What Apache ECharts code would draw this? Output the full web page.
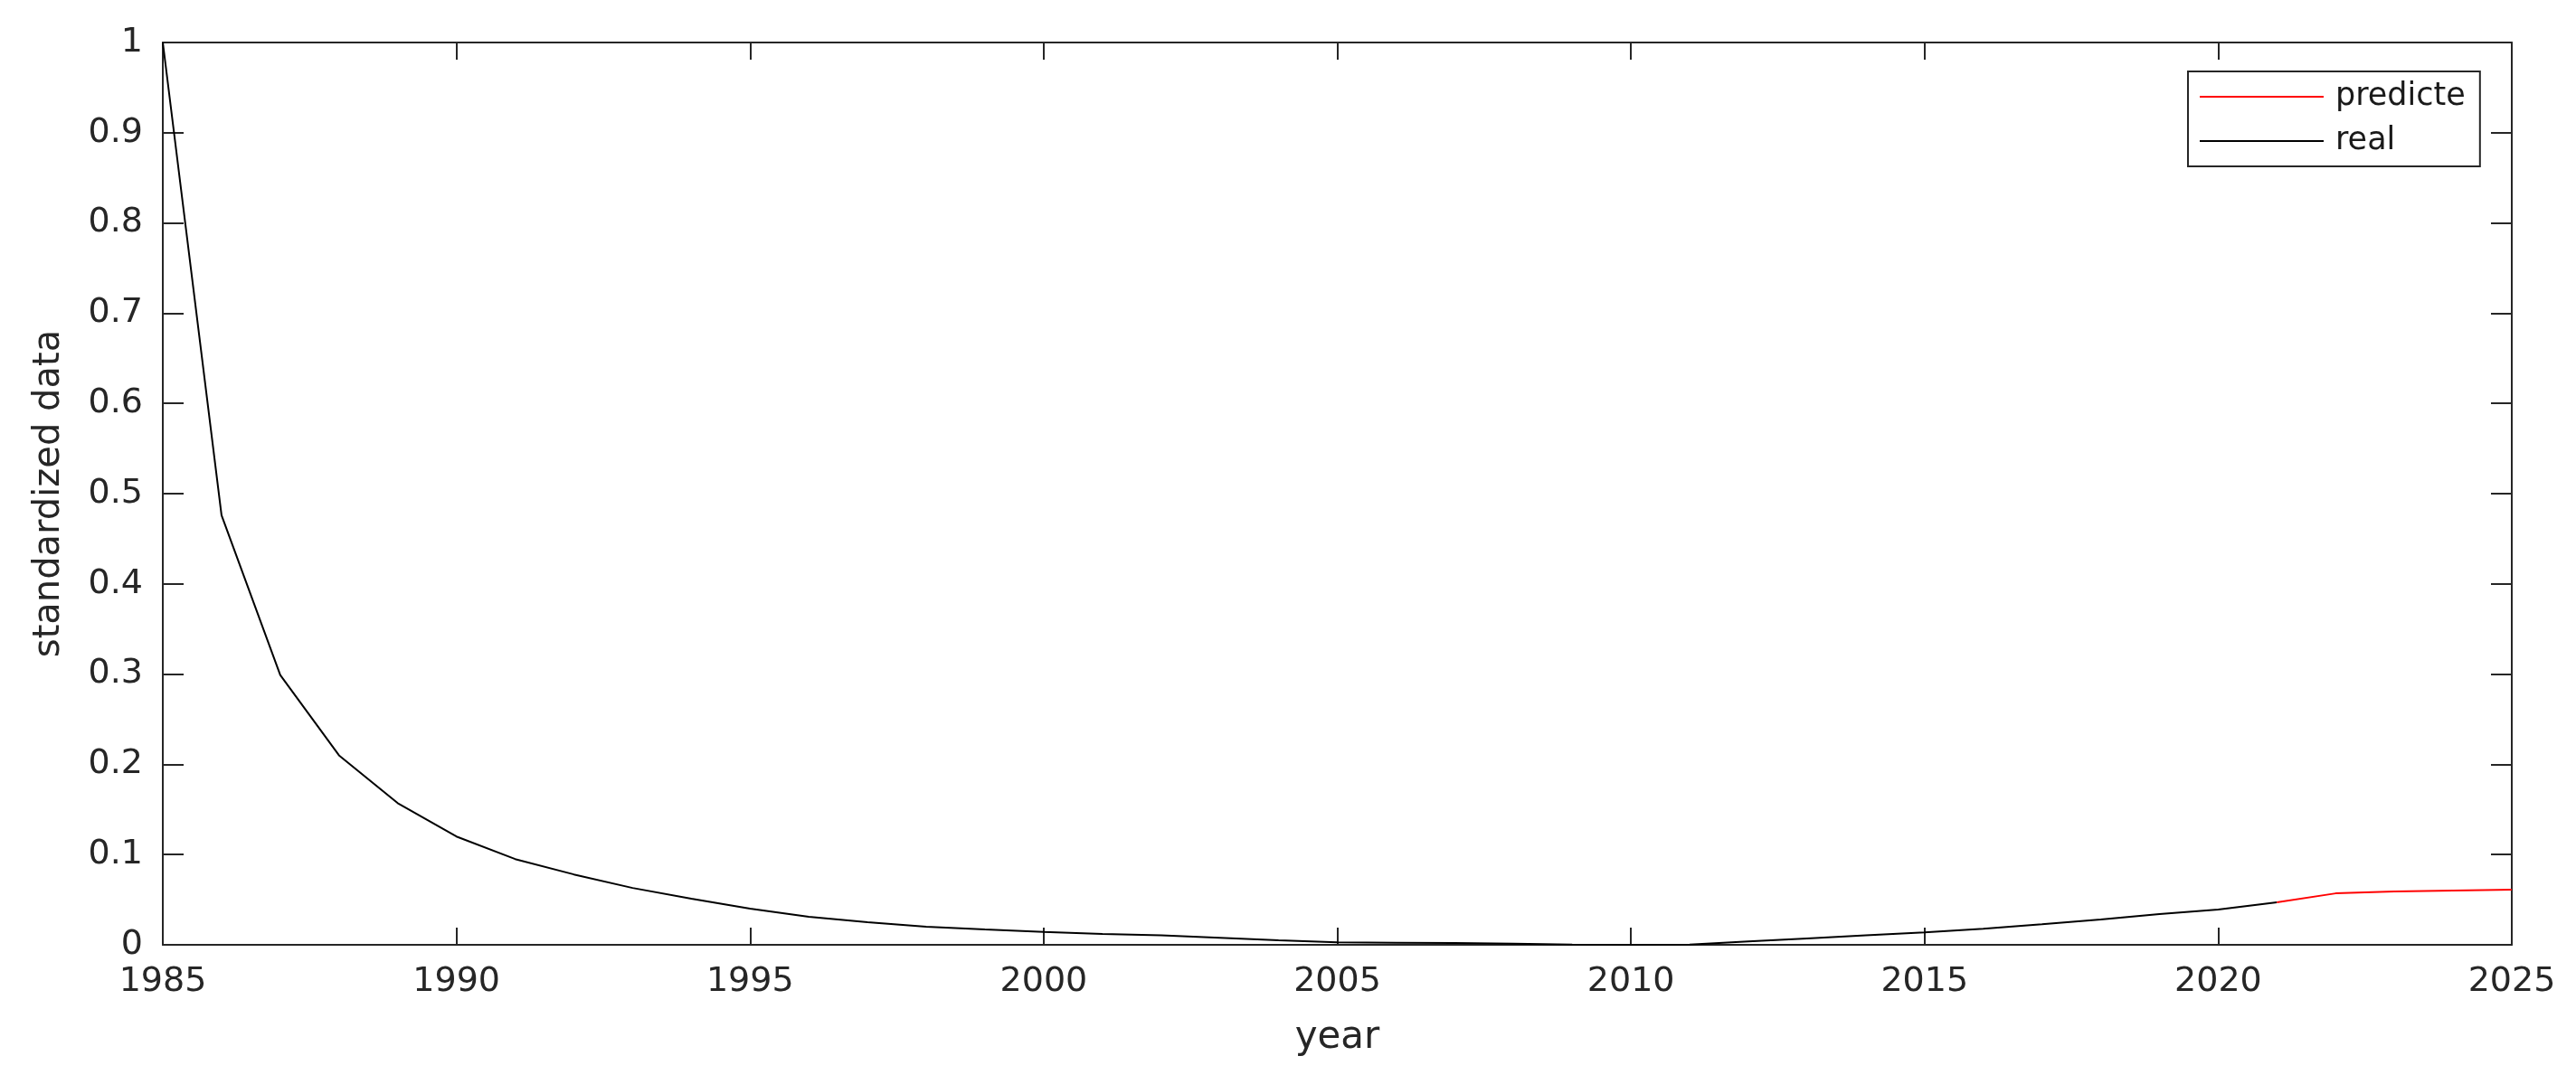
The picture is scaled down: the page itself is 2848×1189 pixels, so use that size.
<!DOCTYPE html>
<html>
<head>
<meta charset="utf-8">
<script src="https://cdn.jsdelivr.net/npm/echarts@6/dist/echarts.min.js"></script>
<style>
  html, body { margin: 0; padding: 0; background: #fff; }
  #chart { width: 2848px; height: 1189px; }
</style>
</head>
<body>
<div id="chart"></div>
<script>
// real data, 1985-2021
const realYears = [1985, 1986, 1987, 1988, 1989, 1990, 1991, 1992, 1993, 1994,
  1995, 1996, 1997, 1998, 1999, 2000, 2001, 2002, 2003, 2004,
  2005, 2006, 2007, 2008, 2009, 2010, 2011, 2012, 2013, 2014,
  2015, 2016, 2017, 2018, 2019, 2020, 2021];
const realValues = [1.0, 0.476, 0.299, 0.210, 0.157, 0.120, 0.095, 0.078, 0.063, 0.051,
  0.040, 0.031, 0.025, 0.020, 0.017, 0.0144, 0.012, 0.0104, 0.0077, 0.005,
  0.0027, 0.0023, 0.002, 0.0013, 0.0003, 0.0, 0.0003, 0.0037, 0.007, 0.0104,
  0.0137, 0.0177, 0.0227, 0.028, 0.034, 0.039, 0.047];

// predicted data, 2021-2025
const predYears = [2021, 2022, 2023, 2024, 2025];
const predValues = [0.047, 0.057, 0.059, 0.060, 0.061];

const legendNames = ['predicte', 'real'];

const axisColor = '#262626';
const font = 'DejaVu Sans';

const chart = echarts.init(document.getElementById('chart'));

function pairs(xs, ys) {
  return xs.map((x, i) => [x, ys[i]]);
}

const xCommon = {
  type: 'value',
  min: 1985,
  max: 2025,
  interval: 5,
  axisLine: { show: true, onZero: false, lineStyle: { color: axisColor, width: 2 } },
  axisTick: { show: true, inside: true, length: 19, lineStyle: { color: axisColor, width: 2 } },
  splitLine: { show: false }
};
const yCommon = {
  type: 'value',
  min: 0,
  max: 1,
  interval: 0.1,
  axisLine: { show: true, onZero: false, lineStyle: { color: axisColor, width: 2 } },
  axisTick: { show: true, inside: true, length: 23, lineStyle: { color: axisColor, width: 2 } },
  splitLine: { show: false }
};

const option = {
  backgroundColor: '#fff',
  animation: false,
  grid: { left: 180, right: 71, top: 47, bottom: 144 },
  legend: {
    data: legendNames,
    orient: 'vertical',
    left: 2419,
    top: 79,
    icon: 'rect',
    itemWidth: 137,
    itemHeight: 2,
    itemGap: 13,
    padding: [10, 16, 10, 13],
    borderColor: axisColor,
    borderWidth: 2,
    backgroundColor: '#fff',
    textStyle: {
      fontFamily: font,
      fontSize: 35,
      lineHeight: 36,
      color: '#1a1a1a',
      padding: [0, 0, 0, 8]
    }
  },
  xAxis: [
    Object.assign({}, xCommon, {
      position: 'bottom',
      name: 'year',
      nameLocation: 'middle',
      nameGap: 82,
      nameTextStyle: { fontFamily: font, fontSize: 42, color: axisColor },
      axisLabel: {
        fontFamily: font, fontSize: 38, color: axisColor, margin: 22,
        formatter: (v) => String(v)
      }
    }),
    Object.assign({}, xCommon, {
      position: 'top',
      axisLabel: { show: false }
    })
  ],
  yAxis: [
    Object.assign({}, yCommon, {
      position: 'left',
      name: 'standardized data',
      nameLocation: 'middle',
      nameGap: 105,
      nameRotate: 90,
      nameTextStyle: { fontFamily: font, fontSize: 40, color: axisColor },
      axisLabel: { fontFamily: font, fontSize: 38, color: axisColor, margin: 22 }
    }),
    Object.assign({}, yCommon, {
      position: 'right',
      axisLabel: { show: false }
    })
  ],
  series: [
    {
      name: 'real',
      type: 'line',
      data: pairs(realYears, realValues),
      showSymbol: false,
      symbol: 'none',
      color: '#000000',
      lineStyle: { color: '#000000', width: 2 }
    },
    {
      name: 'predicte',
      type: 'line',
      data: pairs(predYears, predValues),
      showSymbol: false,
      symbol: 'none',
      color: '#ff0000',
      lineStyle: { color: '#ff0000', width: 2 }
    }
  ]
};

chart.setOption(option);
</script>
</body>
</html>
